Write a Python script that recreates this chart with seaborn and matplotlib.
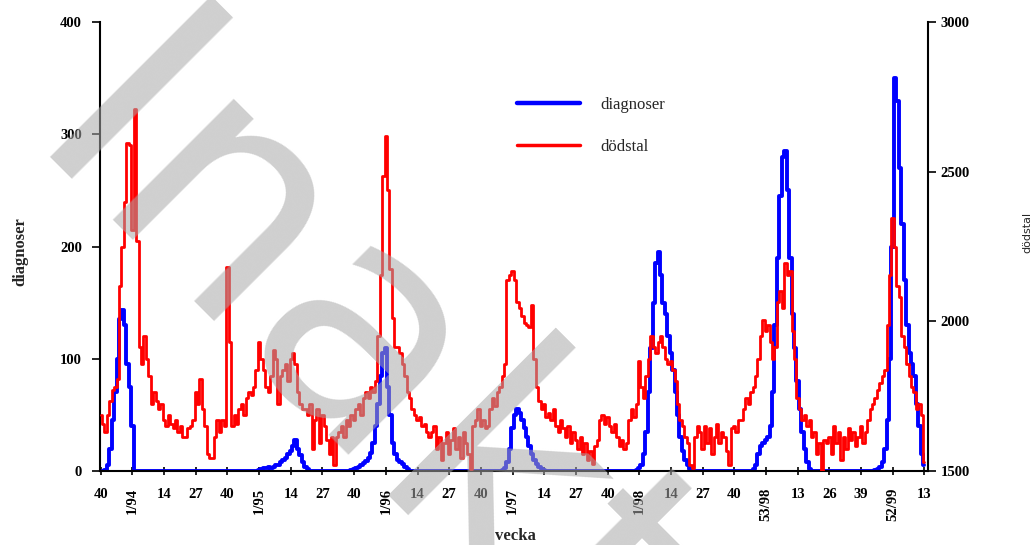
import numpy as np
import matplotlib
matplotlib.use("Agg")
import matplotlib.pyplot as plt
from matplotlib.lines import Line2D
import seaborn as sns

# weekly values, week 40/1993 .. week 13/2000
diagnoser = [
    0, 0, 1, 5, 20, 45, 70, 100, 135, 143, 130, 95, 75, 40, 0,
    0, 0, 0, 0, 0, 0, 0, 0, 0, 0, 0, 0, 0, 0, 0, 0, 0, 0, 0, 0,
    0, 0, 0, 0, 0, 0, 0, 0, 0, 0, 0, 0, 0, 0, 0, 0, 0, 0, 0, 0,
    0, 0, 0, 0, 0, 0, 0, 0, 0, 0,
    1, 2, 3, 3, 4, 3, 4, 5, 5, 8, 10, 12, 15, 18, 22, 28, 20, 14, 8, 4, 2, 0,
    0, 0, 0, 0, 0, 0, 0, 0, 0, 0, 0, 0, 0, 0, 0, 0,
    1, 2, 3, 4, 5, 7, 9, 12, 16, 25, 40, 60, 85, 105, 110, 75, 50, 25, 15, 10, 8, 6, 4, 2,
    0, 0, 0, 0, 0, 0, 0, 0, 0, 0, 0, 0, 0, 0, 0, 0, 0, 0, 0, 0,
    0, 0, 0, 0, 0, 0, 0, 0, 0, 0, 0, 0, 0, 0, 0, 0, 0, 0,
    1, 3, 8, 20, 38, 50, 55, 52, 45, 38, 30, 22, 15, 10, 6, 4, 2, 1,
    0, 0, 0, 0, 0, 0, 0, 0, 0, 0, 0, 0, 0, 0, 0, 0, 0, 0, 0, 0,
    0, 0, 0, 0, 0, 0, 0, 0, 0, 0, 0, 0, 0, 0, 0, 0, 0, 1, 3,
    5, 15, 35, 70, 110, 150, 185, 195, 175, 150, 140, 120, 105, 90, 70, 50, 30, 18, 10, 5, 2,
    0, 0, 0, 0, 0, 0, 0, 0, 0, 0, 0, 0, 0, 0, 0, 0, 0, 0, 0, 0, 0, 0, 0, 0, 0,
    2, 5, 15, 22, 25, 28, 30, 40, 70, 130, 190, 245, 280, 285, 250, 190, 140, 110, 80, 55, 35, 20, 8, 2,
    0, 0, 0, 0, 0, 0, 0, 0, 0, 0, 0, 0, 0, 0, 0, 0, 0, 0, 0, 0, 0, 0, 0, 0, 0, 0,
    1, 2, 4, 8, 20, 45, 100, 200, 350, 330, 270, 220, 170, 130, 105, 95, 85, 60, 40, 15, 5,
]

dodstal = [
    1688, 1658, 1631, 1688, 1733, 1770, 1781, 1808, 2119, 2250, 2400, 2595, 2588,
    2306, 2708, 2269, 1913, 1856, 1950, 1875, 1819, 1725, 1763, 1733, 1706, 1725,
    1669, 1650, 1688, 1658, 1643, 1669, 1631, 1650, 1613, 1613, 1643, 1650, 1669,
    1763, 1725, 1808, 1706, 1650, 1556, 1545, 1545, 1613, 1669, 1631, 1669, 1650,
    2183, 1931, 1650, 1688, 1658, 1706, 1725, 1688, 1744, 1763, 1755, 1781, 1838,
    1931, 1875, 1838, 1781, 1763, 1819, 1905, 1875, 1725, 1819, 1838, 1856, 1800,
    1875, 1894, 1856, 1763, 1725, 1706, 1706, 1688, 1725, 1575, 1669, 1706, 1594,
    1688, 1650, 1605, 1556, 1613, 1519, 1613, 1631, 1650, 1613, 1669, 1650, 1688,
    1669, 1706, 1725, 1688, 1744, 1763, 1744, 1781, 1763, 1800, 1950, 2156, 2486,
    2618, 2438, 2175, 2010, 1913, 1913, 1894, 1856, 1819, 1763, 1744, 1706, 1688,
    1669, 1680, 1650, 1658, 1631, 1613, 1631, 1650, 1575, 1613, 1538, 1594, 1631,
    1556, 1605, 1643, 1575, 1613, 1545, 1631, 1594, 1556, 1508, 1650, 1669, 1706,
    1650, 1669, 1643, 1650, 1706, 1744, 1718, 1763, 1781, 1819, 1856, 2138, 2156,
    2168, 2138, 2063, 2044, 2018, 1995, 1988, 1980, 2055, 1875, 1781, 1733, 1706,
    1725, 1680, 1695, 1669, 1706, 1650, 1631, 1669, 1643, 1613, 1650, 1594, 1631,
    1605, 1575, 1613, 1556, 1594, 1538, 1568, 1523, 1583, 1605, 1669, 1688, 1658,
    1680, 1650, 1631, 1658, 1613, 1583, 1605, 1575, 1594, 1669, 1706, 1680, 1725,
    1868, 1781, 1744, 1819, 1875, 1950, 1913, 1894, 1931, 1950, 1913, 1875, 1856,
    1868, 1838, 1800, 1725, 1669, 1650, 1613, 1594, 1519, 1511, 1613, 1650, 1631,
    1575, 1650, 1594, 1643, 1556, 1613, 1658, 1594, 1631, 1613, 1568, 1519, 1643,
    1650, 1631, 1669, 1669, 1706, 1744, 1725, 1763, 1781, 1819, 1875, 1950, 2006,
    1969, 1988, 1931, 1875, 1913, 2063, 2100, 2044, 2194, 2156, 2168, 1969, 1875,
    1744, 1706, 1669, 1688, 1650, 1669, 1613, 1631, 1556, 1594, 1500, 1605, 1594,
    1613, 1556, 1650, 1594, 1631, 1538, 1613, 1575, 1643, 1605, 1631, 1583, 1613,
    1650, 1594, 1631, 1669, 1706, 1725, 1744, 1770, 1793, 1819, 1838, 1988, 2156,
    2344, 2250, 2119, 2081, 1950, 1913, 1856, 1819, 1781, 1763, 1706, 1725, 1688,
    1530,
]

tick_pos = [0, 13, 26, 39, 52, 65, 78, 91, 104, 117, 130, 143, 156, 169, 182, 195,
            208, 221, 234, 247, 260, 273, 286, 299, 312, 325, 338]
tick_labels = ["40", "1/94", "14", "27", "40", "1/95", "14", "27", "40", "1/96", "14",
               "27", "40", "1/97", "14", "27", "40", "1/98", "14", "27", "40", "53/98",
               "13", "26", "39", "52/99", "13"]

sns.set_theme(style="white")
plt.rcParams["font.family"] = ["Liberation Serif", "DejaVu Serif"]

W, H = 1035, 545
fig = plt.figure(figsize=(W / 100, H / 100), dpi=100)
ax = fig.add_axes([100 / W, 1 - 471 / H, 828 / W, 449 / H])
ax2 = ax.twinx()

wk_d = np.arange(len(diagnoser))
wk_m = np.arange(len(dodstal))

sns.lineplot(x=wk_d, y=diagnoser, ax=ax, color="#0000ff", lw=2.8,
             drawstyle="steps-mid", legend=False, errorbar=None)
sns.lineplot(x=wk_m, y=dodstal, ax=ax2, color="#ff0000", lw=2.0,
             drawstyle="steps-mid", legend=False, errorbar=None)

ax.set_xlim(-0.3, 339.5)
ax.set_ylim(0, 400)
ax2.set_ylim(1500, 3000)
ax.set_yticks([0, 100, 200, 300, 400])
ax2.set_yticks([1500, 2000, 2500, 3000])
ax.set_xticks(tick_pos)
ax.set_xticklabels(tick_labels)
for lab in ax.get_xticklabels():
    if "/" in lab.get_text():
        lab.set_rotation(90)
        lab.set_va("top")
    lab.set_fontsize(10.5)
    lab.set_fontweight("bold")

for a in (ax, ax2):
    for s in a.spines.values():
        s.set_color("black")
        s.set_linewidth(1.5)
    a.spines["top"].set_visible(False)
    a.grid(False)
ax.spines["right"].set_visible(False)
ax2.spines["left"].set_visible(False)
ax2.spines["bottom"].set_visible(False)

ax.tick_params(axis="y", which="both", left=True, length=6, width=1.2, labelsize=10.5,
               direction="out", pad=7, colors="black")
ax.tick_params(axis="x", which="both", bottom=True, length=6, width=1.2,
               direction="inout", pad=9, colors="black")
ax2.tick_params(axis="y", right=True, length=6, width=1.2, labelsize=10.5,
                direction="out", pad=3, colors="black")
for lab in ax.get_yticklabels() + ax2.get_yticklabels():
    lab.set_fontweight("bold")

ax.set_ylabel("")
ax2.set_ylabel("")
ax.set_xlabel("")
fig.text(20 / W, 1 - 252 / H, "diagnoser", rotation=90, ha="center", va="center",
         fontsize=12, fontweight="bold")
fig.text(1027 / W, 1 - 232 / H, "dödstal", rotation=90, ha="center", va="center",
         fontsize=8, family=["DejaVu Sans"])
fig.text(515 / W, 1 - 536 / H, "vecka", ha="center", va="center",
         fontsize=12, fontweight="bold")

handles = [Line2D([], [], color="#0000ff", lw=3.2), Line2D([], [], color="#ff0000", lw=2.5)]
fig.legend(handles, ["diagnoser", "dödstal"], loc="upper left",
           bbox_to_anchor=(502 / W, 1 - 82 / H), frameon=False,
           handlelength=3.8, handletextpad=1.2, labelspacing=1.55,
           prop={"family": "Liberation Serif", "size": 12})

fig.text(18 / W, 1 - 156 / H, "Inaktuell", rotation=-45, rotation_mode="anchor",
         ha="left", va="baseline", fontsize=225, color="#a8a8a8", alpha=0.55,
         family=["DejaVu Sans"], zorder=20)

fig.savefig("out.png", dpi=100)
